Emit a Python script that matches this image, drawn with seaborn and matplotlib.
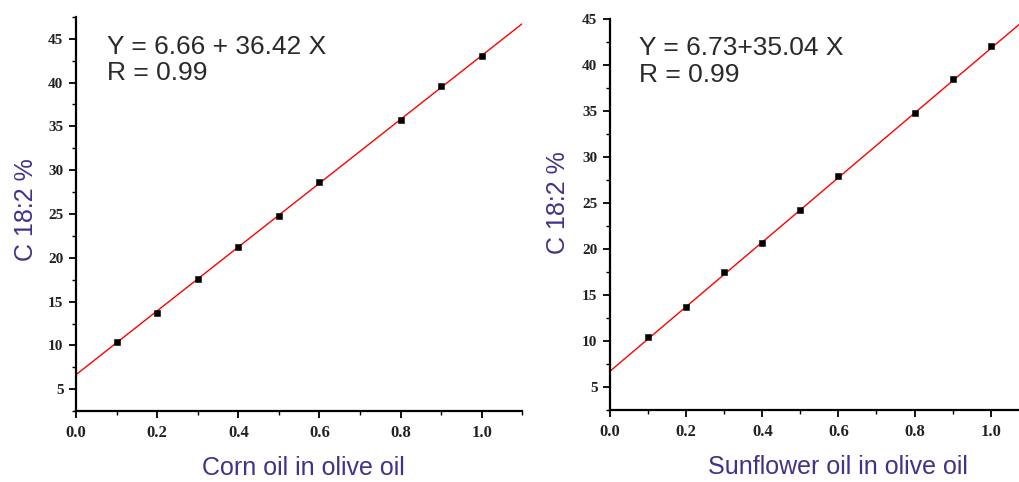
import matplotlib
matplotlib.use("Agg")
import matplotlib.pyplot as plt
from matplotlib.ticker import MultipleLocator
import seaborn as sns
import pandas as pd

# Данные: доля масла в оливковом масле и содержание C 18:2
corn_x = [0.1, 0.2, 0.3, 0.4, 0.5, 0.6, 0.8, 0.9, 1.0]
corn_y = [10.4, 13.7, 17.6, 21.2, 24.8, 28.6, 35.7, 39.6, 43.0]
corn_fit = (6.66, 36.42)  # (свободный член, наклон)

sun_x = [0.1, 0.2, 0.3, 0.4, 0.5, 0.6, 0.8, 0.9, 1.0]
sun_y = [10.4, 13.7, 17.5, 20.7, 24.2, 27.9, 34.8, 38.5, 42.0]
sun_fit = (6.73, 35.04)

fit_x = [0.0, 1.1]

sns.set_theme(style="white")
plt.rcParams["font.family"] = ["Liberation Sans", "DejaVu Sans"]

LABEL_COLOR = "#45308a"
TEXT_COLOR = "#2a2a2a"
TICK_FONT = ["Liberation Serif", "DejaVu Serif"]

fig = plt.figure(figsize=(10.2, 4.82), dpi=100)
ax1 = fig.add_axes([0.0745, 0.147, 0.4375, 0.818])
ax2 = fig.add_axes([0.598, 0.149, 0.4106, 0.812])


def draw_panel(ax, xs, ys, fit, ylim, eq_text, xlabel, xlabel_x):
    df = pd.DataFrame({"x": xs, "y": ys})
    line = pd.DataFrame({"x": fit_x, "y": [fit[0] + fit[1] * v for v in fit_x]})
    sns.lineplot(data=line, x="x", y="y", ax=ax, color="red", linewidth=1.0)
    sns.scatterplot(data=df, x="x", y="y", ax=ax, marker="s", s=24,
                    color="black", edgecolor="black", zorder=3)

    ax.set_xlim(0, 1.1)
    ax.set_ylim(*ylim)
    ax.xaxis.set_minor_locator(MultipleLocator(0.1))
    ax.yaxis.set_minor_locator(MultipleLocator(2.5))
    ax.set_yticks([v for v in range(5, 50, 5) if v <= ylim[1]])
    ax.set_xticks([0.0, 0.2, 0.4, 0.6, 0.8, 1.0])
    ax.set_xticklabels(["0.0", "0.2", "0.4", "0.6", "0.8", "1.0"])

    for side in ["top", "right"]:
        ax.spines[side].set_visible(False)
    for side in ["left", "bottom"]:
        ax.spines[side].set_linewidth(1.6)
        ax.spines[side].set_color("black")

    ax.tick_params(which="major", direction="out", length=5, width=1.3,
                   left=True, bottom=True, color="black")
    ax.tick_params(which="minor", direction="out", length=3, width=1.0,
                   left=True, bottom=True, color="black")
    ax.tick_params(axis="x", pad=5)
    ax.tick_params(axis="y", pad=4)
    for lab in ax.get_xticklabels():
        lab.set_family(TICK_FONT)
        lab.set_fontweight("bold")
        lab.set_fontsize(12)
        lab.set_color("#222222")
    for lab in ax.get_yticklabels():
        lab.set_family(TICK_FONT)
        lab.set_fontweight("bold")
        lab.set_fontsize(11)
        lab.set_color("#222222")

    ax.set_xlabel(xlabel, fontsize=18, color=LABEL_COLOR)
    ax.set_ylabel("C 18:2 %", fontsize=18, color=LABEL_COLOR)
    ax.xaxis.set_label_coords(xlabel_x, -0.115)
    ax.text(0.07, 0.955, eq_text, transform=ax.transAxes, fontsize=19,
            color=TEXT_COLOR, va="top", ha="left", linespacing=1.15)


draw_panel(ax1, corn_x, corn_y, corn_fit, (2.5, 47.5),
           "Y = 6.66 + 36.42 X\nR = 0.99", "Corn oil in olive oil", 0.51)
draw_panel(ax2, sun_x, sun_y, sun_fit, (2.5, 45),
           "Y = 6.73+35.04 X\nR = 0.99", "Sunflower oil in olive oil", 0.545)

ax1.yaxis.set_label_coords(-0.085, 0.51)
ax2.yaxis.set_label_coords(-0.096, 0.53)

fig.savefig("out.png", dpi=100)
plt.close(fig)
